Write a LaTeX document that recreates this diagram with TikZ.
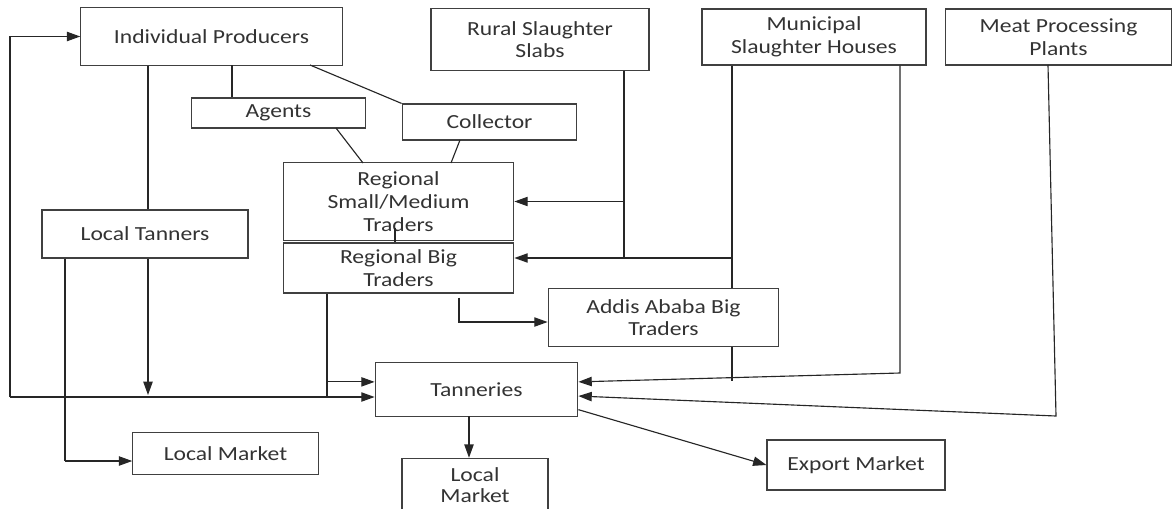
\documentclass[tikz,border=0pt]{standalone}
\usepackage{fontspec}
\setmainfont{Carlito}[FakeStretch=1.18]
\usepackage{tikz}
\usepackage{tkz-euclide}
\usetikzlibrary{arrows.meta, calc}

\tikzset{
  box/.style={draw=black!75, line width=0.85pt, rectangle, align=center, inner sep=0pt,
    font=\fontsize{15}{17}\selectfont, text=black!80},
  link/.style={line width=0.85pt, draw=black!85},
  >={Triangle[length=10pt,width=7pt]}
}

\begin{document}
\begin{tikzpicture}[x=0.75pt, y=-0.75pt]
        \useasboundingbox (0,0) rectangle (1174,508);

        % boxes
        \node[box, minimum width=196pt, minimum height=43pt] (ip) at (211.5,36.5) {Individual Producers};
        \node[box, minimum width=131pt, minimum height=22.5pt] (ag) at (278.5,113) {Agents};
        \node[box, minimum width=131pt, minimum height=27pt] (col) at (489.5,122) {Collector};
        \node[box, minimum width=173pt, minimum height=58pt] (rsm) at (398.5,201.5) {Regional\\Small/Medium\\Traders};
        \node[box, minimum width=173pt, minimum height=37.5pt] (rbt) at (398.5,268) {Regional Big\\Traders};
        \node[box, minimum width=163.5pt, minimum height=46pt] (rss) at (540,39.5) {Rural Slaughter\\Slabs};
        \node[box, minimum width=168pt, minimum height=42pt] (msh) at (814,37) {Municipal\\Slaughter Houses};
        \node[box, minimum width=170pt, minimum height=42pt] (mpp) at (1058.5,37) {Meat Processing\\Plants};
        \node[box, minimum width=173pt, minimum height=44pt] (aabt) at (663.5,317.5) {Addis Ababa Big\\Traders};
        \node[box, minimum width=154.5pt, minimum height=36pt] (lt) at (145,234) {Local Tanners};
        \node[box, minimum width=152pt, minimum height=40pt] (tan) at (476.5,389.5) {Tanneries};
        \node[box, minimum width=139pt, minimum height=32pt] (lm1) at (225.5,453.5) {Local Market};
        \node[box, minimum width=109.5pt, minimum height=40pt, font=\fontsize{15}{15.5}\selectfont] (lm2) at (475,485) {Local\\Market};
        \node[box, minimum width=133.5pt, minimum height=37.5pt] (em) at (856,465) {Export Market};

        % junctions
        \tkzDefPoint(10,397){L_0}
        \tkzDefPoint(148,395){P_1}
        \tkzDefPoint(232,65){P_2}
        \tkzDefPoint(310,65){P_3}
        \tkzDefPoint(336,128){Q_1}
        \tkzDefPoint(363,163){Q_2}
        \tkzDefPoint(460,140){Q_3}
        \tkzDefPoint(451,163){Q_4}
        \tkzDefPoint(395,228){Q_5}
        \tkzDefPoint(624,258){R_1}
        \tkzDefPoint(732,258){M_1}
        \tkzDefPoint(732,381){M_2}
        \tkzDefPoint(900,373){M_3}
        \tkzDefPoint(1048,65){N_1}
        \tkzDefPoint(1056,416){N_2}
        \tkzDefPoint(459,322){B_1}
        \tkzDefPoint(327,397){B_2}
        \tkzDefPoint(65,461){C_1}
        \tkzDefPoint(469,416){D_1}
        \coordinate (T_w) at ($(tan.north west)!0.36!(tan.south west)$);
        \coordinate (T_e1) at ($(tan.north east)!0.36!(tan.south east)$);
        \coordinate (T_e2) at ($(tan.north east)!0.62!(tan.south east)$);
        \coordinate (T_e3) at ($(tan.north east)!0.87!(tan.south east)$);

        % producers side
        \draw[link,->] (L_0) |- (ip.west);
        \draw[link,->] (L_0) -- (L_0 -| tan.west);
        \draw[link] (P_1 |- ip.south) -- (P_1 |- lt.north);
        \draw[link,->] (P_1 |- lt.south) -- (P_1);
        \draw[link] (P_2) -- (P_2 |- ag.north);
        \draw[link] (P_3) -- (col.north west);
        \draw[link] (Q_1) -- (Q_2);
        \draw[link] (Q_3) -- (Q_4);
        \draw[link] (Q_5) -- (Q_5 |- rbt.north);
        \draw[link] (C_1 |- lt.south) -- (C_1);
        \draw[link,->] (C_1) -- (C_1 -| lm1.west);

        % slaughter side
        \draw[link] (R_1 |- rss.south) -- (R_1);
        \draw[link,->] (rsm.east -| R_1) -- (rsm.east);
        \draw[link] (M_1 |- msh.south) -- (M_1 |- aabt.north);
        \draw[link,->] (M_1) -- (M_1 -| rbt.east);
        \draw[link] (M_1 |- aabt.south) -- (M_2);
        \draw[link,->] (M_3 |- msh.south) -- (M_3) -- (T_e1);
        \draw[link,->] (N_1) -- (N_2) -- (T_e2);

        % traders
        \draw[link,->] ([yshift=-3pt]B_1 |- rbt.south) -- (B_1) -- (B_1 -| aabt.west);
        \draw[link] (B_2 |- rbt.south) -- (B_2);
        \draw[link,->] (T_w -| B_2) -- (T_w);

        % tanneries out
        \draw[link,->] (D_1) -- (D_1 |- lm2.north);
        \draw[link,->] (T_e3) -- (em.west);
\end{tikzpicture}
\end{document}
